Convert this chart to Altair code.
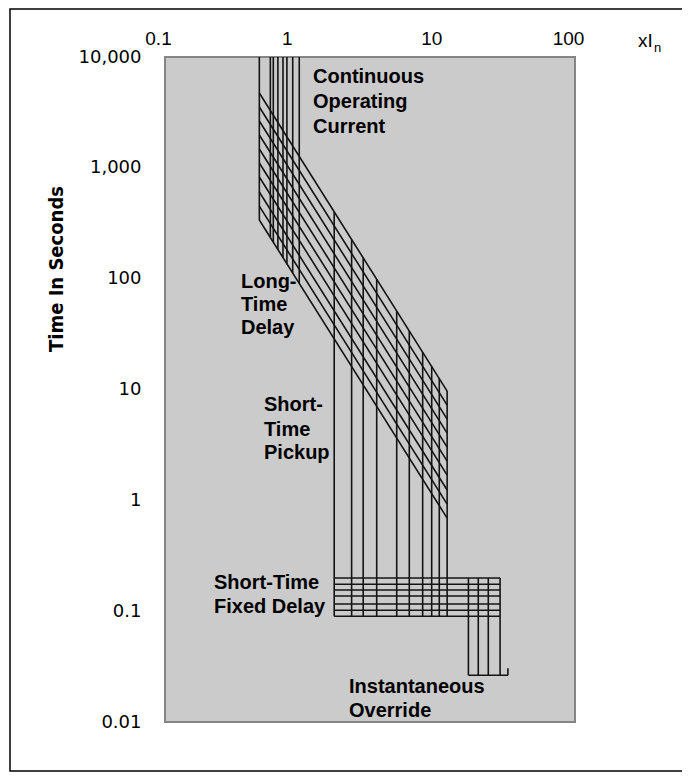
import altair as alt
import pandas as pd

# ---------------- data ----------------
# Continuous operating current (long-time pickup) verticals, xIn
pickup_x = [0.49, 0.59, 0.62, 0.67, 0.73, 0.78, 0.86, 0.96]
pickup_t_top = [10000, 10000, 10000, 10000, 10000, 10000, 10000, 10000]
pickup_t_bottom = [338, 236, 214, 181, 154, 135, 111, 91]

# Long-time delay bands (straight lines in log-log)
lt_x_start = [0.49] * 10
lt_x_end = [11.6] * 10
lt_t_start = [4732, 3536, 2645, 1977, 1478, 1105, 826, 605, 452, 338]
lt_t_end = [9.68, 7.23, 5.40, 4.04, 3.02, 2.26, 1.69, 1.24, 0.925, 0.691]

# Short-time pickup verticals
st_x = [1.73, 2.32, 2.82, 3.54, 4.96, 6.13, 7.68, 8.94, 10.16, 11.6]
st_t_top = [399, 225, 154, 98.6, 50.9, 33.7, 21.7, 16.2, 12.6, 9.68]
st_t_bottom = [0.090] * 10

# Short-time fixed delay horizontals
fd_t = [0.199, 0.175, 0.155, 0.137, 0.116, 0.102, 0.090]
fd_x_start = [1.73] * 7
fd_x_end = [28.3] * 7

# Instantaneous override verticals
inst_x = [16.6, 19.6, 23.2, 28.3]
inst_t_top = [0.199] * 4
inst_t_bottom = [0.0264] * 4
inst_base_x = [16.6, 32.3]
inst_base_t = [0.0264, 0.0264]
inst_hook_x = [32.3, 32.3]
inst_hook_t = [0.0264, 0.0306]

x_ticks = [0.1, 1, 10, 100]
y_ticks = [0.01, 0.1, 1, 10, 100, 1000, 10000]

# ---------------- build segments ----------------
rows = []
for x, t1, t2 in zip(pickup_x, pickup_t_top, pickup_t_bottom):
    rows.append((x, t1, x, t2))
for xa, xb, ta, tb in zip(lt_x_start, lt_x_end, lt_t_start, lt_t_end):
    rows.append((xa, ta, xb, tb))
for x, t1, t2 in zip(st_x, st_t_top, st_t_bottom):
    rows.append((x, t1, x, t2))
for t, xa, xb in zip(fd_t, fd_x_start, fd_x_end):
    rows.append((xa, t, xb, t))
for x, t1, t2 in zip(inst_x, inst_t_top, inst_t_bottom):
    rows.append((x, t1, x, t2))
rows.append((inst_base_x[0], inst_base_t[0], inst_base_x[1], inst_base_t[1]))
rows.append((inst_hook_x[0], inst_hook_t[0], inst_hook_x[1], inst_hook_t[1]))
seg = pd.DataFrame(rows, columns=["x1", "t1", "x2", "t2"])

W, H = 410, 665

xscale = alt.Scale(type="log", domain=[0.1, 100], nice=False)
yscale = alt.Scale(type="log", domain=[0.01, 10000], nice=False)

xaxis = alt.Axis(orient="top", values=x_ticks, format="~g", ticks=False, domain=False,
                 grid=False, labelFont="Liberation Sans", labelFontSize=19,
                 labelColor="black", labelPadding=9,
                 labelOffset={"condition": {"test": "datum.value == 1", "value": -15}, "value": -7},
                 labelFlush=False, labelOverlap=False, title=None)
yaxis = alt.Axis(orient="left", values=y_ticks, format=",~g", ticks=False, domain=False,
                 grid=False, labelFont="DejaVu Sans", labelFontSize=18,
                 labelColor="black", labelPadding=24, labelFlush=False,
                 labelOverlap=False, title=None)

lines = alt.Chart(seg).mark_rule(color="#141414", strokeWidth=1.6).encode(
    x=alt.X("x1:Q", scale=xscale, axis=xaxis),
    y=alt.Y("t1:Q", scale=yscale, axis=yaxis),
    x2="x2:Q",
    y2="t2:Q",
)

one = pd.DataFrame({"a": [0]})

# annotations (text, left x px, center y px relative to plot origin)
ann_text = ["Continuous", "Operating", "Current",
            "Long-", "Time", "Delay",
            "Short-", "Time", "Pickup",
            "Short-Time", "Fixed Delay",
            "Instantaneous", "Override"]
ann_px = [148, 148, 148, 76, 76, 76, 99, 99, 99, 49, 49, 184, 184]
ann_py = [20, 45, 70, 225, 248, 271, 348, 373, 396, 526, 550, 630, 654]

layers = [lines]
for s, px, py in zip(ann_text, ann_px, ann_py):
    layers.append(
        alt.Chart(one).mark_text(text=s, align="left", baseline="middle",
                                 font="Liberation Sans", fontSize=20,
                                 fontWeight="bold", color="black")
        .encode(x=alt.value(px), y=alt.value(py))
    )

# y title
layers.append(
    alt.Chart(one).mark_text(text="Time In Seconds", angle=270, align="center",
                             baseline="middle", font="Liberation Sans Narrow, DejaVu Sans Condensed, Liberation Sans",
                             fontSize=20, fontWeight="bold", color="black")
    .encode(x=alt.value(-108), y=alt.value(212))
)
# x unit label xI_n
layers.append(
    alt.Chart(one).mark_text(text="xI", align="left", baseline="alphabetic",
                             font="Liberation Sans", fontSize=19, color="black")
    .encode(x=alt.value(473), y=alt.value(-10))
)
layers.append(
    alt.Chart(one).mark_text(text="n", align="left", baseline="alphabetic",
                             font="Liberation Sans", fontSize=13, color="black")
    .encode(x=alt.value(489), y=alt.value(-5))
)
# outer frame
layers.append(
    alt.Chart(one).mark_rect(fill=None, stroke="black", strokeWidth=1.5).encode(
        x=alt.value(-155), x2=alt.value(518), y=alt.value(-48), y2=alt.value(714)
    )
)

chart = alt.layer(*layers).properties(
    width=W, height=H,
    autosize=alt.AutoSizeParams(type="none"),
    padding={"left": 157, "top": 49, "right": 107, "bottom": 50},
    background="white",
).configure_view(fill="#cbcbcb", stroke="#858585", strokeWidth=2)

chart.save("out.html", embed_options={"renderer": "svg", "actions": False})
